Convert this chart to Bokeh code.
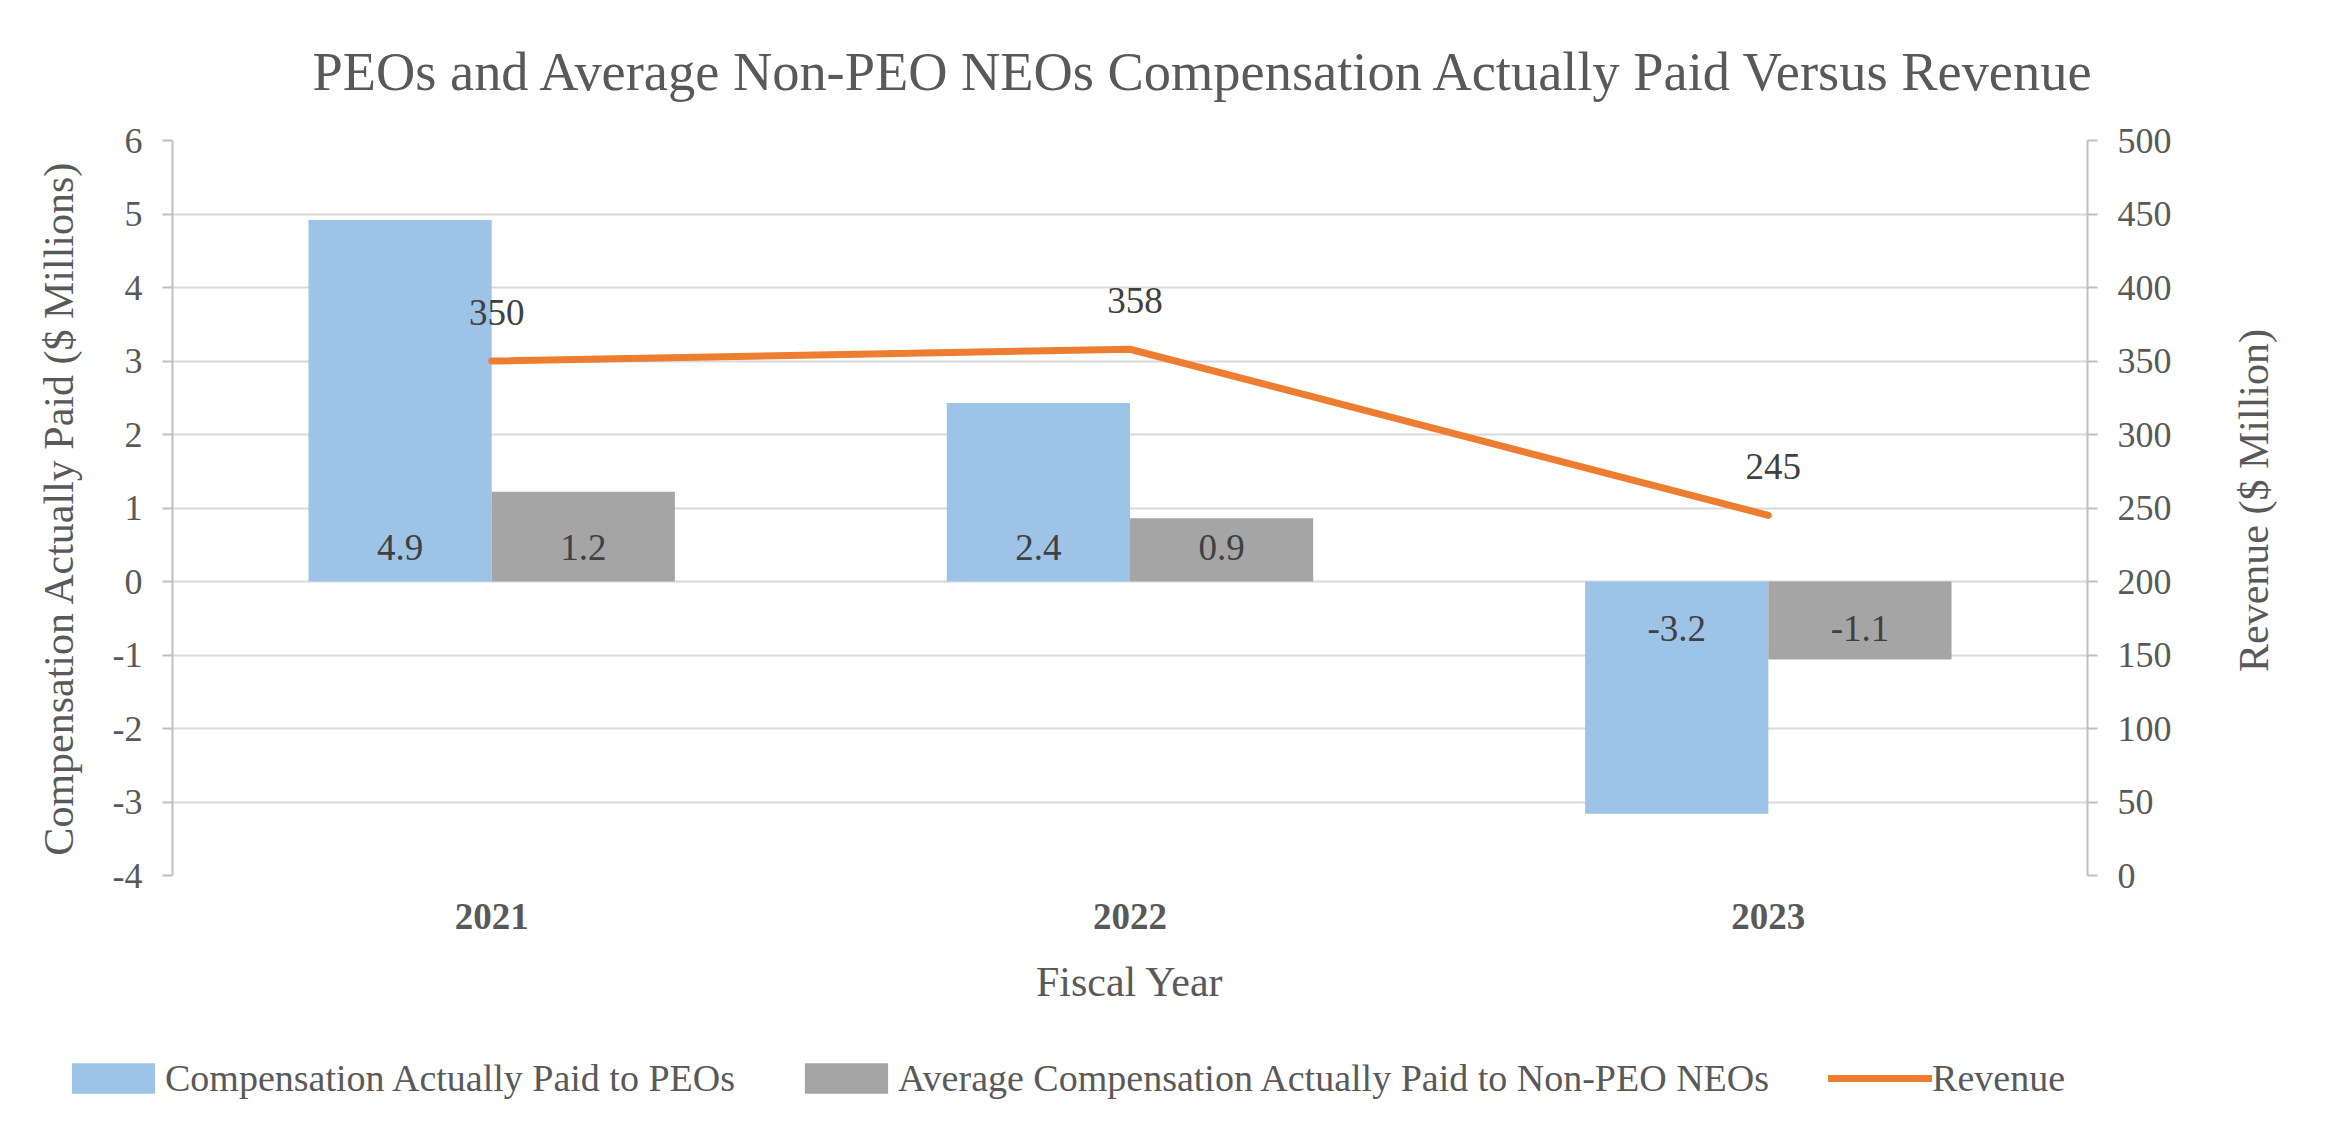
import math
from bokeh.plotting import figure
from bokeh.layouts import column, row
from bokeh.models import (ColumnDataSource, Range1d, LinearAxis, FixedTicker, Legend,
                          LegendItem, Title, FactorRange, Label)
from bokeh.transform import dodge
from bokeh.core.properties import value
from bokeh.embed import file_html
from bokeh.resources import INLINE

# ---- data ----
years = ["2021", "2022", "2023"]
peo_cap = [4.92, 2.43, -3.16]
neo_cap = [1.22, 0.86, -1.06]
revenue = [350, 358, 245]
left_ticks = [-4, -3, -2, -1, 0, 1, 2, 3, 4, 5, 6]
right_ticks = [0, 50, 100, 150, 200, 250, 300, 350, 400, 450, 500]

title_text = "PEOs and Average Non-PEO NEOs Compensation Actually Paid Versus Revenue"
left_title = "Compensation Actually Paid ($ Millions)"
right_title = "Revenue ($ Million)"
x_title = "Fiscal Year"
series_names = ["Compensation Actually Paid to PEOs",
                "Average Compensation Actually Paid to Non-PEO NEOs",
                "Revenue"]

# ---- style ----
FONT = "Liberation Serif"
BLUE = "#9DC3E6"
GRAY = "#A5A5A5"
ORANGE = "#ED7D31"
TXT = "#595959"
LBL = "#404040"
W1, W2 = 2200, 134
H1, H2 = 1040, 82
BW = 0.287

p = figure(x_range=FactorRange(*years), y_range=Range1d(-4, 6),
           width=W1, height=H1, output_backend="svg", toolbar_location=None,
           min_border_left=172, min_border_right=W1 - 2087,
           min_border_top=140, min_border_bottom=H1 - 875)
p.extra_y_ranges = {"rev": Range1d(0, 500)}
p.outline_line_color = None
p.background_fill_color = "white"
p.border_fill_color = "white"

src = ColumnDataSource(dict(
    year=years, peo=peo_cap, neo=neo_cap, rev=revenue,
    peo_txt=[f"{v:.1f}" for v in peo_cap],
    neo_txt=[f"{v:.1f}" for v in neo_cap],
    rev_txt=[f"{v:d}" for v in revenue],
    peo_off=[-34 if v >= 0 else 47 for v in peo_cap],
    neo_off=[-34 if v >= 0 else 47 for v in neo_cap],
    zero=[0, 0, 0],
))

p.vbar(x=dodge("year", -BW / 2, range=p.x_range), top="peo", bottom=0, width=BW,
       source=src, fill_color=BLUE, line_color=None)
p.vbar(x=dodge("year", BW / 2, range=p.x_range), top="neo", bottom=0, width=BW,
       source=src, fill_color=GRAY, line_color=None)
p.line(x="year", y="rev", source=src, y_range_name="rev", line_color=ORANGE,
       line_width=7, line_cap="round", line_join="round")

p.text(x=dodge("year", -BW / 2, range=p.x_range), y="zero", text="peo_txt", source=src,
       y_offset="peo_off", text_align="center", text_baseline="middle",
       text_font=value(FONT), text_font_size=value("37px"), text_color=LBL)
p.text(x=dodge("year", BW / 2, range=p.x_range), y="zero", text="neo_txt", source=src,
       y_offset="neo_off", text_align="center", text_baseline="middle",
       text_font=value(FONT), text_font_size=value("37px"), text_color=LBL)
p.text(x="year", y="rev", text="rev_txt", source=src, y_range_name="rev",
       x_offset=5, y_offset=-49, text_align="center", text_baseline="middle",
       text_font=value(FONT), text_font_size=value("37px"), text_color=LBL)

# ---- axes ----
p.yaxis.ticker = FixedTicker(ticks=left_ticks)
p.yaxis.major_label_overrides = {t: str(t) for t in left_ticks}
p.yaxis.axis_label = left_title
ax_r = LinearAxis(y_range_name="rev", ticker=FixedTicker(ticks=right_ticks))
ax_r.major_label_overrides = {t: str(t) for t in right_ticks}
p.add_layout(ax_r, "right")

for ax in [p.yaxis[0], ax_r]:
    ax.axis_line_color = "#BFBFBF"
    ax.axis_line_width = 2
    ax.major_tick_line_color = "#BFBFBF"
    ax.major_tick_line_width = 2
    ax.major_tick_out = 10
    ax.major_tick_in = 0
    ax.minor_tick_line_color = None
    ax.major_label_standoff = 20
    ax.major_label_text_font = FONT
    ax.major_label_text_font_size = "36px"
    ax.major_label_text_color = TXT
    ax.axis_label_text_font = FONT
    ax.axis_label_text_font_size = "42px"
    ax.axis_label_text_font_style = "normal"
    ax.axis_label_text_color = TXT
p.yaxis[0].axis_label_standoff = 28

xa = p.xaxis[0]
xa.axis_line_color = None
xa.major_tick_line_color = None
xa.minor_tick_line_color = None
xa.major_label_standoff = 22
xa.major_label_text_font = FONT
xa.major_label_text_font_size = "37px"
xa.major_label_text_font_style = "bold"
xa.major_label_text_color = TXT
xa.axis_label = x_title
xa.axis_label_standoff = 27
xa.axis_label_text_font = FONT
xa.axis_label_text_font_size = "42px"
xa.axis_label_text_font_style = "normal"
xa.axis_label_text_color = TXT

p.xgrid.grid_line_color = None
p.ygrid.ticker = FixedTicker(ticks=left_ticks)
p.ygrid.grid_line_color = "#D9D9D9"
p.ygrid.grid_line_width = 2

# ---- title ----
t = Title(text=title_text, align="left", offset=140, standoff=77,
          text_font=FONT, text_font_size="54.4px", text_font_style="normal", text_color=TXT)
p.add_layout(t, "above")

# ---- right axis title (strip to the right, reads bottom-to-top) ----
rp = figure(width=W2, height=H1, x_range=Range1d(0, W2), y_range=Range1d(0, H1),
            x_axis_type=None, y_axis_type=None, output_backend="svg",
            toolbar_location=None, min_border=0)
rp.frame_align = False
rp.outline_line_color = None
rp.grid.visible = False
rp.add_layout(Label(x=53, y=H1 - 500, text=right_title, angle=math.pi / 2,
                    text_align="center", text_baseline="middle",
                    text_font=FONT, text_font_size="42px", text_color=TXT))

# ---- legend (strip below the chart) ----
lp = figure(width=W1 + W2, height=H2, x_range=Range1d(0, 1), y_range=Range1d(0, 1),
            x_axis_type=None, y_axis_type=None, output_backend="svg",
            toolbar_location=None, min_border=0)
lp.frame_align = False
lp.outline_line_color = None
lp.grid.visible = False
# legend proxies share the chart's data but fall outside this strip's ranges
k1 = lp.vbar(x="rev", top="rev", width=0.1, source=src, fill_color=BLUE, line_color=None)
k2 = lp.vbar(x="rev", top="rev", width=0.1, source=src, fill_color=GRAY, line_color=None)
k3 = lp.line(x="rev", y="rev", source=src, line_color=ORANGE, line_width=7, line_cap="round")

legend = Legend(items=[LegendItem(label=series_names[0], renderers=[k1]),
                       LegendItem(label=series_names[1], renderers=[k2]),
                       LegendItem(label=series_names[2], renderers=[k3])],
                orientation="horizontal", location=(61, 22),
                glyph_width=104, glyph_height=38, label_standoff=0, spacing=59,
                padding=0, margin=0, border_line_color=None, background_fill_alpha=0,
                label_text_font=FONT, label_text_font_size="38px", label_text_color=TXT,
                label_height=30)
lp.add_layout(legend, "center")

layout = column(row(p, rp, spacing=0), lp, spacing=0)
open("out.html", "w").write(file_html(layout, INLINE))
